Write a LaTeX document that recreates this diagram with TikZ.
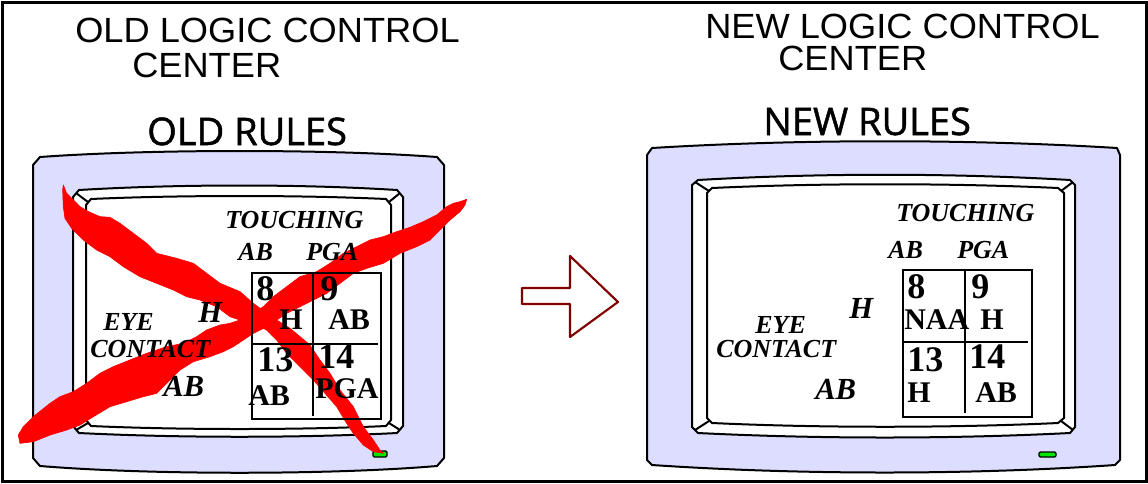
\documentclass[tikz,border=0pt]{standalone}
\usepackage{fontspec}
\setmainfont{Liberation Serif}
\newfontfamily\titlefont{Liberation Sans}
\newfontfamily\rulefont[FakeBold=1.3]{Open Sans}
\definecolor{bezel}{RGB}{221,221,255}
\definecolor{arrowred}{RGB}{128,0,0}
\definecolor{ledgreen}{RGB}{0,230,0}
\begin{document}
\begin{tikzpicture}[x=0.75pt,y=-0.75pt,
  title/.style={inner sep=0pt,anchor=base west,font=\titlefont\fontsize{26.25}{28}\selectfont,xscale=1.035},
  rules/.style={inner sep=0pt,anchor=base west,font=\rulefont\fontsize{28.5}{30}\selectfont},
  lab/.style={inner sep=0pt,anchor=base west,font=\bfseries\itshape\fontsize{19.5}{20}\selectfont},
  biglab/.style={inner sep=0pt,anchor=base west,font=\bfseries\itshape\fontsize{23}{24}\selectfont},
  cellnum/.style={inner sep=0pt,anchor=base west,font=\bfseries\fontsize{27}{28}\selectfont},
  celltxt/.style={inner sep=0pt,anchor=base west,font=\bfseries\fontsize{22.5}{23}\selectfont},
  mline/.style={draw=black,line width=1.5pt,line join=round},
  gline/.style={draw=black,line width=1.5pt},
  brush/.style={fill=red,draw=red,line width=0.5pt,line join=round},
  led/.style={fill=ledgreen,draw=black,line width=1pt,rounded corners=1pt}]
\useasboundingbox (0,0) rectangle (1148,483);
\draw[line width=2.25pt] (2,2) rectangle (1146,481);

% ---------- left monitor ----------
\path[mline,fill=bezel] (33,165) -- (40,157) .. controls (150,149) and (330,149) .. (437,157) -- (444,165) -- (444,458) -- (437,466) .. controls (330,475) and (150,475) .. (40,466) -- (33,458) -- cycle;
\path[mline,fill=white] (73,197) -- (79,190) .. controls (180,184) and (300,184) .. (397,190) -- (403,197) -- (403,426) -- (397,433) .. controls (300,438) and (180,438) .. (79,433) -- (73,426) -- cycle;
\path[mline,fill=white] (86,205) -- (91,199) .. controls (180,195) and (300,195) .. (386,199) -- (391,205) -- (391,420) -- (386,426) .. controls (300,430) and (180,430) .. (91,426) -- (86,420) -- cycle;
\draw[mline] (76,193) -- (88,202) (400,193) -- (389,202) (400,430) -- (389,423) (76,430) -- (88,423);
\draw[led] (373,451) rectangle (387,457);

% ---------- red cross ----------
\begin{scope}[shift={(0,140)},scale=1/3]
\path[brush] (190,135) -- (200,160) -- (215,175) -- (240,200) -- (265,215) -- (300,230) -- (330,232) -- (360,250) -- (400,280) -- (440,310) -- (470,340) -- (530,355) -- (580,370) -- (620,400) -- (660,430) -- (720,455) -- (760,490) -- (800,520) -- (830,540) -- (870,565) -- (900,590) -- (930,615) -- (960,660) -- (990,700) -- (1020,750) -- (1060,800) -- (1090,860) -- (1120,900) -- (1140,930) -- (1150,940) -- (1120,935) -- (1090,915) -- (1060,880) -- (1040,850) -- (1010,800) -- (975,760) -- (940,720) -- (900,680) -- (860,640) -- (830,600) -- (800,570) -- (770,555) -- (720,540) -- (690,530) -- (650,500) -- (600,480) -- (560,470) -- (520,450) -- (470,430) -- (420,410) -- (370,380) -- (330,350) -- (290,330) -- (250,300) -- (215,265) -- (195,235) -- (190,200) -- (188,150) -- cycle;
\path[brush] (1400,178) -- (1380,185) -- (1360,190) -- (1340,200) -- (1310,225) -- (1270,245) -- (1230,262) -- (1190,275) -- (1150,290) -- (1110,300) -- (1070,320) -- (1030,340) -- (990,370) -- (950,395) -- (900,410) -- (860,440) -- (820,470) -- (790,500) -- (760,520) -- (720,540) -- (690,550) -- (660,555) -- (620,570) -- (590,590) -- (550,610) -- (500,620) -- (440,640) -- (390,660) -- (340,680) -- (300,700) -- (260,730) -- (220,755) -- (180,770) -- (150,790) -- (100,830) -- (70,860) -- (55,885) -- (60,910) -- (100,905) -- (150,885) -- (200,870) -- (240,855) -- (280,830) -- (330,800) -- (380,785) -- (430,770) -- (470,760) -- (500,730) -- (540,690) -- (580,665) -- (630,650) -- (670,635) -- (700,620) -- (730,600) -- (760,580) -- (800,560) -- (830,540) -- (860,520) -- (900,500) -- (940,480) -- (980,460) -- (1020,430) -- (1060,400) -- (1100,385) -- (1150,370) -- (1200,340) -- (1250,320) -- (1290,300) -- (1320,270) -- (1350,240) -- (1380,215) -- (1395,195) -- cycle;
\end{scope}

% left grid
\draw[gline] (252,273) rectangle (381,419);
\draw[gline] (313,273) -- (313,416);
\draw[gline] (252,344) -- (378,344);

% ---------- right monitor ----------
\path[mline,fill=bezel] (647,155) -- (652,148) .. controls (800,139) and (970,139) .. (1117,148) -- (1120,155) -- (1120,460) -- (1115,465) .. controls (970,475) and (800,475) .. (652,465) -- (647,460) -- cycle;
\path[mline,fill=white] (692,185) -- (698,180) .. controls (820,173) and (950,173) .. (1070,180) -- (1075,185) -- (1075,427) -- (1070,433) .. controls (950,439) and (820,439) .. (698,433) -- (692,427) -- cycle;
\path[mline,fill=white] (707,193) -- (712,188) .. controls (820,183) and (950,183) .. (1058,188) -- (1064,193) -- (1064,418) -- (1058,423) .. controls (950,428) and (820,428) .. (712,423) -- (707,418) -- cycle;
\draw[mline] (695,182) -- (709,191) (1073,182) -- (1061,191) (1073,430) -- (1061,421) (695,430) -- (709,421);
\draw[led] (1039,452) rectangle (1056,457);

% right grid
\draw[gline] (903,270) rectangle (1032,417);
\draw[gline] (965,270) -- (965,413);
\draw[gline] (903,342) -- (1028,342);

% ---------- titles ----------
\node[title] (t1a) at (75,42) {OLD LOGIC CONTROL};
\node[title] (t1b) at (132,77) {CENTER};
\node[rules] (r1) at (147,145) {OLD RULES};
\node[title] (t2a) at (705,38) {NEW LOGIC CONTROL};
\node[title] (t2b) at (778,70) {CENTER};
\node[rules] (r2) at (763,135) {NEW RULES};

% ---------- left labels ----------
\node[lab] (lt) at (225,228) {TOUCHING};
\node[lab] (lab1) at (238,260) {AB};
\node[lab] (lpga) at (306,260) {PGA};
\node[biglab] (lh) at (198,322) {H};
\node[lab] (leye) at (103,330) {EYE};
\node[lab] (lcon) at (90,357) {CONTACT};
\node[biglab] (lab2) at (163,396) {AB};
\node[cellnum] (l8) at (256,300) {8};
\node[celltxt] (l8t) at (279,329) {H};
\node[cellnum] (l9) at (320,300) {9};
\node[celltxt] (l9t) at (328,329) {AB};
\node[cellnum] (l13) at (257,371) {13};
\node[celltxt] (l13t) at (248,405) {AB};
\node[cellnum] (l14) at (318,368) {14};
\node[celltxt] (l14t) at (315,398) {PGA};

% ---------- right labels ----------
\node[lab] (rt) at (896,221) {TOUCHING};
\node[lab] (rab1) at (888,258) {AB};
\node[lab] (rpga) at (957,258) {PGA};
\node[biglab] (rh) at (849,318) {H};
\node[lab] (reye) at (755,333) {EYE};
\node[lab] (rcon) at (716,357) {CONTACT};
\node[biglab] (rab2) at (815,399) {AB};
\node[cellnum] (r8) at (907,298) {8};
\node[celltxt] (r8t) at (904,329) {NAA};
\node[cellnum] (r9) at (971,298) {9};
\node[celltxt] (r9t) at (980,329) {H};
\node[cellnum] (r13) at (907,371) {13};
\node[celltxt] (r13t) at (907,402) {H};
\node[cellnum] (r14) at (969,368) {14};
\node[celltxt] (r14t) at (975,402) {AB};

% ---------- arrow ----------
\path[draw=arrowred,fill=white,line width=1.6pt,line join=round] (522,288) -- (570,288) -- (570,256) -- (618,302) -- (570,337) -- (570,304) -- (522,304) -- cycle;
\end{tikzpicture}
\end{document}
